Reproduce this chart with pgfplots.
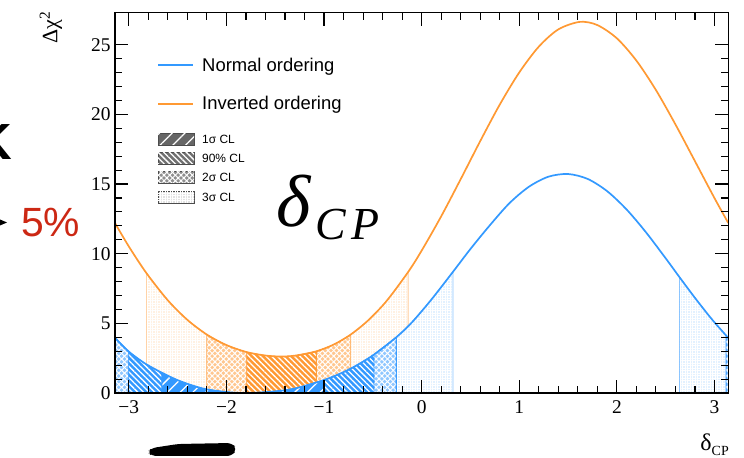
\documentclass[border=0pt]{standalone}
\usepackage{pgfplots}
\pgfplotsset{compat=1.18}
\usepackage{pgfplotstable}
\usetikzlibrary{patterns.meta}
\usepackage{fontspec}
\setmainfont{Liberation Serif}
\newfontfamily\helv{Liberation Sans}

\definecolor{noblue}{RGB}{51,153,255}
\definecolor{ioorange}{RGB}{255,153,51}
\definecolor{pctred}{RGB}{204,40,20}
\colorlet{keygray}{black!80}

% Delta chi^2 versus delta_CP, normal ordering
\pgfplotstableread{
x y
-3.1416 3.96
-3.00 2.97
-2.83 2.10
-2.66 1.45
-2.50 0.92
-2.34 0.52
-2.20 0.26
-2.00 0.07
-1.85 0.00
-1.70 0.02
-1.50 0.12
-1.30 0.32
-1.00 0.93
-0.80 1.50
-0.65 2.05
-0.49 2.75
-0.26 4.00
-0.10 5.07
0.10 6.71
0.32 8.69
0.50 10.34
0.70 12.05
0.90 13.63
1.10 14.81
1.30 15.53
1.50 15.72
1.70 15.37
1.90 14.49
2.10 13.17
2.30 11.52
2.50 9.67
2.64 8.33
2.80 6.83
2.97 5.32
3.12 4.12
3.1416 3.96
}\normaltab

% Delta chi^2 versus delta_CP, inverted ordering
\pgfplotstableread{
x y
-3.1416 12.20
-3.00 10.52
-2.82 8.61
-2.60 6.65
-2.40 5.25
-2.20 4.19
-2.00 3.44
-1.79 2.93
-1.60 2.69
-1.45 2.62
-1.30 2.68
-1.08 2.99
-0.90 3.48
-0.73 4.18
-0.55 5.20
-0.36 6.60
-0.14 8.67
0.00 10.22
0.20 12.68
0.40 15.35
0.60 18.08
0.80 20.70
1.00 23.01
1.20 24.86
1.40 26.10
1.62 26.64
1.80 26.41
2.00 25.46
2.20 23.86
2.40 21.75
2.60 19.28
2.80 16.64
3.00 13.99
3.1416 12.20
}\invertedtab

\tikzset{
  cl1/.style={fill=#1, postaction={pattern={Lines[angle=45,distance=9bp,line width=1.3bp]}, pattern color=white}},
  cl90/.style={fill=#1, postaction={pattern={Lines[angle=-45,distance=4bp,line width=1.3bp]}, pattern color=white}},
  cl2/.style={fill=#1!55, postaction={pattern={Lines[angle=45,distance=4bp,line width=1bp]}, pattern color=white},
              postaction={pattern={Lines[angle=-45,distance=4bp,line width=1bp]}, pattern color=white}},
  cl3/.style={fill=#1!14, postaction={pattern={Lines[angle=0,distance=2.5bp,line width=0.3bp]}, pattern color=white},
              postaction={pattern={Lines[angle=90,distance=2.5bp,line width=0.3bp]}, pattern color=white}},
}

\begin{document}
\begin{tikzpicture}
\useasboundingbox (0bp,0bp) rectangle (744bp,458bp);

\begin{axis}[
  at={(115bp,65bp)}, anchor=south west,
  scale only axis, width=613.3bp, height=380.3bp,
  xmin=-3.14159, xmax=3.14159, ymin=0, ymax=27.3,
  axis on top,
  xtick={-3,-2,-1,0,1,2,3},
  xticklabels={−3,−2,−1,0,1,2,3},
  ytick={0,5,10,15,20,25},
  minor x tick num=4, minor y tick num=4,
  tick align=inside, tick pos=both,
  xticklabel pos=lower, yticklabel pos=left,
  major tick length=13bp, minor tick length=7bp,
  axis line style={line width=1.4bp},
  every tick/.style={black, line width=1.1bp},
  /pgf/number format/assume math mode=true,
  tick label style={font=\fontsize{19.5}{20}\selectfont},
  xticklabel style={yshift=-4bp},
  yticklabel style={xshift=-1bp},
]
% inverted ordering intervals
\addplot[cl3=ioorange, draw=ioorange!45, line width=0.6bp, smooth] table[x=x,y=y, restrict x to domain=-2.821:-2.199] {\invertedtab} \closedcycle;
\addplot[cl3=ioorange, draw=ioorange!45, line width=0.6bp, smooth] table[x=x,y=y, restrict x to domain=-0.731:-0.139] {\invertedtab} \closedcycle;
\addplot[cl2=ioorange, draw=ioorange!70, line width=0.6bp, smooth] table[x=x,y=y, restrict x to domain=-2.201:-1.789] {\invertedtab} \closedcycle;
\addplot[cl2=ioorange, draw=ioorange!70, line width=0.6bp, smooth] table[x=x,y=y, restrict x to domain=-1.081:-0.729] {\invertedtab} \closedcycle;
\addplot[cl90=ioorange, draw=ioorange, line width=0.6bp, smooth] table[x=x,y=y, restrict x to domain=-1.791:-1.079] {\invertedtab} \closedcycle;

% normal ordering intervals
\addplot[cl3=noblue, draw=noblue!60, line width=0.6bp, smooth] table[x=x,y=y, restrict x to domain=-0.261:0.321] {\normaltab} \closedcycle;
\addplot[cl3=noblue, draw=noblue!60, line width=0.6bp, smooth] table[x=x,y=y, restrict x to domain=2.639:3.121] {\normaltab} \closedcycle;
\addplot[cl2=noblue, draw=noblue, line width=0.6bp, smooth] table[x=x,y=y, restrict x to domain=-3.142:-2.999] {\normaltab} \closedcycle;
\addplot[cl2=noblue, draw=noblue, line width=0.6bp, smooth] table[x=x,y=y, restrict x to domain=-0.491:-0.259] {\normaltab} \closedcycle;
\addplot[cl2=noblue, draw=noblue, line width=0.6bp, smooth] table[x=x,y=y, restrict x to domain=3.119:3.142] {\normaltab} \closedcycle;
\addplot[cl90=noblue, draw=noblue, line width=0.6bp, smooth] table[x=x,y=y, restrict x to domain=-3.001:-2.659] {\normaltab} \closedcycle;
\addplot[cl90=noblue, draw=noblue, line width=0.6bp, smooth] table[x=x,y=y, restrict x to domain=-1.001:-0.489] {\normaltab} \closedcycle;
\addplot[cl1=noblue, draw=noblue, line width=0.6bp, smooth] table[x=x,y=y, restrict x to domain=-2.661:-0.999] {\normaltab} \closedcycle;

\addplot[ioorange, line width=1.7bp, smooth] table[x=x,y=y] {\invertedtab};
\addplot[noblue, line width=1.7bp, smooth] table[x=x,y=y] {\normaltab};
\end{axis}

% axis titles
\node[rotate=90, anchor=east, inner sep=0pt] at (51bp,447bp) {\fontsize{22}{22}\selectfont Δχ\textsuperscript{2}};
\node[anchor=base east, inner sep=0pt] at (729bp,8bp) {\fontsize{24}{24}\selectfont δ\raisebox{-5bp}{\fontsize{14}{14}\selectfont CP}};

% legend
\draw[noblue, line width=1.7bp] (158bp,393bp) -- (193bp,393bp);
\node[anchor=base west, inner sep=0pt] at (202bp,386bp) {\helv\fontsize{18.5}{19}\selectfont Normal ordering};
\draw[ioorange, line width=1.7bp] (158bp,354bp) -- (193bp,354bp);
\node[anchor=base west, inner sep=0pt] at (202bp,348bp) {\helv\fontsize{18.5}{19}\selectfont Inverted ordering};

\path[cl1=keygray!75, draw=black!70, line width=0.8bp] (158bp,313bp) rectangle (194bp,325bp);
\node[anchor=base west, inner sep=0pt] at (202bp,314.5bp) {\helv\fontsize{12}{12}\selectfont 1σ CL};
\path[cl90=keygray!70, draw=black!70, line width=0.8bp] (158bp,294bp) rectangle (194bp,306bp);
\node[anchor=base west, inner sep=0pt] at (202bp,295.5bp) {\helv\fontsize{12}{12}\selectfont 90\% CL};
\path[cl2=keygray, draw=black!70, line width=0.8bp] (158bp,275bp) rectangle (194bp,287bp);
\node[anchor=base west, inner sep=0pt] at (202bp,276.5bp) {\helv\fontsize{12}{12}\selectfont 2σ CL};
\path[cl3=keygray, draw=black!70, line width=0.8bp] (158bp,255bp) rectangle (194bp,267bp);
\node[anchor=base west, inner sep=0pt] at (202bp,256.5bp) {\helv\fontsize{12}{12}\selectfont 3σ CL};

% large parameter label
\node[anchor=base west, inner sep=0pt] at (276bp,231bp) {\fontsize{74}{74}\selectfont\itshape δ\kern5bp\raisebox{-13bp}{\fontsize{46}{46}\selectfont C\kern5bp P}};

% slide remnants around the plot
\node[anchor=base east, inner sep=0pt] at (12bp,298bp) {\helv\bfseries\fontsize{51}{51}\selectfont K};
\fill (0bp,238.5bp) -- (7bp,235.5bp) -- (0bp,232.5bp) -- cycle;
\node[anchor=base west, inner sep=0pt, text=pctred] at (21bp,221bp) {\helv\fontsize{41}{41}\selectfont 5\%};
\fill[rounded corners=5bp] (152bp,2bp) -- (232bp,2bp) -- (237bp,9bp) -- (232bp,15bp) -- (178bp,14bp) -- (152bp,10bp) -- (147bp,6bp) -- cycle;
\end{tikzpicture}
\end{document}
